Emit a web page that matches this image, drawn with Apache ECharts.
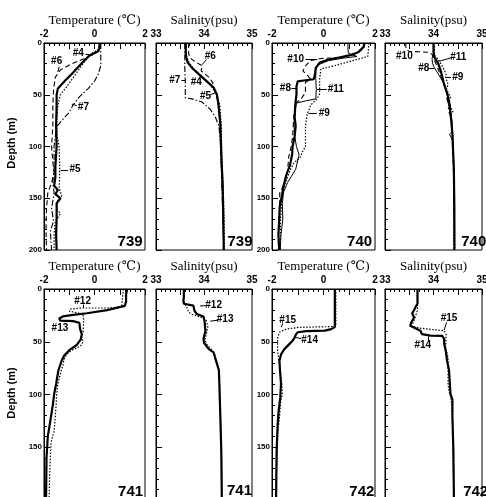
<!DOCTYPE html>
<html><head><meta charset="utf-8">
<script src="https://cdn.jsdelivr.net/npm/echarts/dist/echarts.min.js"></script>
<style>html,body{margin:0;padding:0;background:#fff}#c{width:486px;height:497px}</style>
</head><body><div id="c"></div>
<script>
// ---------- Station 739 ----------
const t739_4 = [[0.2,0],[0.2,5],[0.15,8],[-0.2,12],[-0.4,17],[-0.6,22],[-0.9,30],[-1.15,36],[-1.45,44],[-1.5,50],[-1.5,60],[-1.52,80],[-1.5,100],[-1.55,120],[-1.55,130],[-1.6,138],[-1.45,142],[-1.55,146],[-1.35,150],[-1.5,155],[-1.5,170],[-1.52,185],[-1.5,200]];
const t739_6 = [[0.2,0],[0.2,5],[0.1,9],[-0.4,15],[-0.9,20],[-1.35,26],[-1.55,33],[-1.62,45],[-1.65,60],[-1.65,80],[-1.7,100],[-1.65,115],[-1.6,125],[-1.7,135],[-1.85,145],[-1.9,160],[-1.92,180],[-1.9,200]];
const t739_7 = [[0.25,0],[0.25,10],[0.25,22],[0.15,30],[0.0,37],[-0.25,44],[-0.6,52],[-0.85,60],[-1.0,67],[-1.3,75],[-1.5,81],[-1.55,90],[-1.6,100],[-1.6,120],[-1.65,135],[-1.6,145],[-1.7,160],[-1.62,172],[-1.75,182],[-1.7,200]];
const t739_5 = [[0.2,0],[0.15,6],[-0.1,10],[-0.4,18],[-0.6,25],[-0.8,32],[-1.1,42],[-1.35,50],[-1.45,60],[-1.5,75],[-1.48,90],[-1.4,100],[-1.38,115],[-1.38,130],[-1.4,140],[-1.3,148],[-1.45,152],[-1.5,160],[-1.35,165],[-1.55,172],[-1.6,185],[-1.6,200]];
const s739_4 = [[33.62,0],[33.62,10],[33.63,14],[33.66,19],[33.75,24],[33.96,33],[34.13,40],[34.2,43],[34.27,50],[34.3,59],[34.34,78],[34.36,107],[34.39,139],[34.4,165],[34.41,193],[34.41,200]];
const s739_6 = [[33.68,0],[33.68,10],[33.7,14],[33.78,17],[33.96,22],[33.94,27],[34.1,33],[34.18,38],[34.2,43],[34.26,50],[34.3,60],[34.33,78],[34.35,100],[34.37,130],[34.4,160],[34.41,200]];
const s739_7 = [[33.6,0],[33.6,15],[33.6,25],[33.61,36],[33.61,53],[33.75,54],[33.96,57],[34.13,64],[34.24,72],[34.31,80],[34.34,95],[34.36,120],[34.38,150],[34.4,180],[34.41,200]];
const s739_5 = [[33.63,0],[33.63,12],[33.68,18],[33.8,26],[34.0,34],[34.15,42],[34.25,48],[34.33,60],[34.36,80],[34.37,110],[34.4,140],[34.42,170],[34.42,200]];
// ---------- Station 740 ----------
const t740_8 = [[1.6,0],[1.55,4],[1.35,9],[1.0,12],[0.6,14],[0.2,16],[-0.15,19],[-0.3,24],[-0.33,30],[-0.38,35],[-0.7,36],[-1.0,37],[-1.05,42],[-1.05,50],[-1.08,56],[-1.1,62],[-1.12,72],[-1.08,80],[-1.12,90],[-1.2,100],[-1.22,108],[-1.3,118],[-1.45,128],[-1.55,138],[-1.62,148],[-1.7,158],[-1.72,170],[-1.75,185],[-1.72,200]];
const t740_11 = [[0.95,0],[0.95,6],[0.97,10],[1.3,13],[0.8,14.5],[0.2,17],[-0.2,21],[-0.3,25],[-0.3,35],[-0.28,45],[-0.3,54],[-0.7,56],[-1.05,58],[-1.1,65],[-1.15,78],[-1.12,90],[-1.05,100],[-0.95,108],[-1.08,122],[-1.4,135],[-1.55,144],[-1.6,155],[-1.58,170],[-1.65,185],[-1.68,200]];
const t740_10 = [[1.6,0],[1.55,6],[1.2,11],[0.7,14],[-0.1,15],[-0.5,17],[-0.7,22],[-0.8,27],[-0.6,32],[-0.5,35],[-0.7,38],[-0.7,48],[-0.9,55],[-1.1,58],[-1.15,70],[-1.2,90],[-1.25,100],[-1.35,110],[-1.4,125],[-1.5,135],[-1.7,145],[-1.7,160],[-1.75,180],[-1.75,200]];
const t740_9 = [[1.75,0],[1.75,5],[1.72,13],[0.42,22],[-0.1,25],[-0.15,35],[-0.15,49],[-0.25,54],[-0.5,60],[-0.56,65],[-0.63,68],[-0.7,80],[-0.7,100],[-0.82,105],[-0.89,110],[-1.15,116],[-1.28,122],[-1.48,135],[-1.6,148],[-1.67,170],[-1.68,200]];
const s740_8 = [[34.0,0],[34.0,9],[34.02,14],[34.09,19],[34.15,27],[34.22,40],[34.29,50],[34.33,59],[34.36,72],[34.39,88],[34.4,100],[34.42,123],[34.43,160],[34.43,200]];
const s740_11 = [[34.0,0],[34.0,10],[33.97,15],[33.98,20],[34.02,24],[34.1,30],[34.2,38],[34.25,45],[34.3,52],[34.28,55],[34.35,65],[34.38,80],[34.38,86],[34.33,88],[34.4,95],[34.42,120],[34.43,200]];
const s740_10 = [[33.43,0],[33.43,6],[33.5,8],[33.7,8.5],[33.9,9],[33.97,11],[34.0,14],[34.05,20],[34.12,28],[34.2,38],[34.28,48],[34.26,52],[34.35,60],[34.3,64],[34.38,75],[34.4,100],[34.42,140],[34.43,200]];
const s740_9 = [[34.02,0],[34.02,12],[34.1,16],[34.2,24],[34.26,30],[34.25,33],[34.3,40],[34.27,45],[34.35,52],[34.31,58],[34.4,66],[34.36,70],[34.4,90],[34.42,120],[34.44,200]];
// ---------- Station 741 ----------
const t741_12 = [[1.15,0],[1.12,5],[1.1,11],[1.08,17],[0.5,18],[-0.5,18],[-0.95,19],[-1.0,21],[-0.6,23],[-0.45,24],[-0.43,30],[-0.45,40],[-0.52,45],[-0.45,50],[-0.55,54],[-0.9,58],[-1.1,62],[-1.2,66],[-1.25,72],[-1.35,80],[-1.45,90],[-1.5,100],[-1.52,110],[-1.55,120],[-1.6,135],[-1.72,145],[-1.75,160],[-1.78,180],[-1.8,200]];
const t741_13 = [[1.3,0],[1.25,5],[1.25,12],[1.2,16],[0.5,20],[-0.3,23],[-0.85,24.5],[-1.25,26],[-1.4,28],[-1.35,30],[-0.85,30.5],[-0.6,32],[-0.57,38],[-0.5,43],[-0.55,48],[-0.7,53],[-1.0,58],[-1.2,63],[-1.3,68],[-1.43,77],[-1.52,90],[-1.6,100],[-1.65,110],[-1.75,125],[-1.85,140],[-1.9,160],[-1.92,200]];
const s741_13 = [[33.58,0],[33.58,8],[33.57,11],[33.53,12.6],[33.58,14],[33.78,15.8],[33.8,20.5],[33.85,23.7],[33.99,26],[34.01,30],[34.03,39.5],[33.99,47],[34.0,51],[34.1,57],[34.2,60],[34.23,65],[34.27,71],[34.31,77],[34.32,90],[34.34,121],[34.36,153],[34.37,194],[34.37,200]];
const s741_12 = [[33.58,0],[33.58,11],[33.6,14],[33.65,18],[33.68,22],[33.75,24],[33.95,27],[34.05,30],[34.08,36],[34.05,42],[34.02,48],[34.05,52],[34.15,57],[34.22,62],[34.28,70],[34.32,80],[34.33,100],[34.35,130],[34.37,170],[34.37,200]];
// ---------- Station 742 ----------
const t742_14 = [[0.44,0],[0.44,20],[0.44,36],[0.3,38],[0.05,39.5],[-0.67,40],[-1.0,41],[-1.07,43],[-1.12,46],[-1.2,49],[-1.32,52],[-1.52,57],[-1.65,62],[-1.71,68],[-1.69,77],[-1.65,90],[-1.68,103],[-1.74,115],[-1.78,128],[-1.82,153],[-1.84,194],[-1.84,200]];
const t742_15 = [[0.48,0],[0.48,20],[0.48,35],[0.25,35.7],[-0.93,36.3],[-1.45,38],[-1.71,41],[-1.78,46],[-1.78,58],[-1.71,74],[-1.62,90],[-1.6,99.5],[-1.66,106],[-1.71,122],[-1.78,137],[-1.82,169],[-1.84,200]];
const s742_14 = [[33.67,0],[33.67,14],[33.63,17],[33.6,20],[33.56,23],[33.6,27],[33.55,31],[33.52,34.8],[33.56,36.3],[33.73,39.5],[33.76,42.7],[33.94,44.2],[34.18,44.5],[34.22,47.4],[34.22,52],[34.25,58],[34.28,68],[34.32,77],[34.35,99.5],[34.39,105],[34.39,121.6],[34.41,153],[34.42,194],[34.42,200]];
const s742_15 = [[33.67,0],[33.67,20],[33.6,30],[33.55,35],[33.7,37],[34.0,38.5],[34.22,39.5],[34.26,43],[34.25,55],[34.3,65],[34.3,90],[34.32,97],[34.36,103],[34.39,120],[34.42,200]];
// ---------- Annotations [x, depth, text] ----------
const lab739T = [[-0.64,9.6,'#4'],[-1.5,18,'#6'],[-0.44,62,'#7'],[-0.77,122,'#5']];
const lab739S = [[34.13,12.8,'#6'],[33.39,36,'#7'],[33.84,38.3,'#4'],[34.03,51,'#5']];
const lab740T = [[-1.08,15.9,'#10'],[-1.48,43.5,'#8'],[0.48,44.4,'#11'],[0.03,67.6,'#9']];
const lab740S = [[33.4,12.8,'#10'],[34.51,13.4,'#11'],[33.8,24,'#8'],[34.5,33.5,'#9']];
const lab741T = [[-0.47,11.7,'#12'],[-1.37,37,'#13']];
const lab741S = [[34.2,15.8,'#12'],[34.44,29,'#13']];
const lab742T = [[-1.39,29.4,'#15'],[-0.54,49,'#14']];
const lab742S = [[34.32,27.5,'#15'],[33.78,53.7,'#14']];
const lead739T = [[[-0.36,11],[-0.06,11.5]],[[-1.4,23],[-1.45,28]],[[-0.7,60.5],[-0.9,59]],[[-1.05,123],[-1.34,123]]];
const lead739S = [[[34.05,16],[33.96,21]],[[33.53,36],[33.61,36]],[[34.13,50],[34.24,48]]];
const lead740T = [[[-0.7,15.9],[-0.24,15.9]],[[-1.25,43.5],[-1.02,43.5]],[[0.13,44.4],[-0.26,44.4]],[[-0.26,67.6],[-0.58,67.6]]];
const lead740S = [[[34.36,14.4],[34.12,17.6]],[[33.91,24],[34.02,24]],[[34.36,33],[34.26,33]]];
const lead741T = [[[-0.44,14.8],[-0.44,18]]];
const lead741S = [[[33.92,16],[34.07,15.8]],[[34.3,29.5],[34.13,30.5]]];
const lead742T = [[[-1.58,32.5],[-1.64,36.3]],[[-0.86,47],[-1.08,46]]];
const lead742S = [[[34.27,31.6],[34.22,38.9]],[[33.9,49],[33.9,45]]];
const stations = [['739',1.41,192],['739',34.75,192],['740',1.4,192],['740',34.83,192],['741',1.43,192],['741',34.74,191],['742',1.49,192],['742',34.87,192]];
const tempTicks = [-2,0,2];
const salTicks = [33,34,35];
const depthTicks = [0,50,100,150,200];

// ---------- Layout ----------
const SANS = 'Liberation Sans, Arial, Helvetica, sans-serif';
const SERIF = 'Liberation Serif, Times New Roman, DejaVu Serif, serif';
const cols = [[44,101],[156,96],[272,103],[385,97]];
const rows = [[43,207,143],[289,211,393]];
const STY = {
  solid:{width:2.2,type:'solid'}, thin:{width:1,type:'solid'},
  dash:{width:1.1,type:[5,3]}, dot:{width:1.2,type:[1.5,1.6]}, dashdot:{width:1.1,type:[6,2,1.5,2]}
};
const panels = [
  {k:'T', prof:[[t739_6,'dash'],[t739_7,'dashdot'],[t739_5,'dot'],[t739_4,'solid']], lab:lab739T, lead:lead739T},
  {k:'S', prof:[[s739_6,'dash'],[s739_7,'dashdot'],[s739_5,'dot'],[s739_4,'solid']], lab:lab739S, lead:lead739S},
  {k:'T', prof:[[t740_10,'dash'],[t740_9,'dot'],[t740_11,'thin'],[t740_8,'solid']], lab:lab740T, lead:lead740T},
  {k:'S', prof:[[s740_10,'dash'],[s740_9,'dot'],[s740_11,'thin'],[s740_8,'solid']], lab:lab740S, lead:lead740S},
  {k:'T', prof:[[t741_12,'dot'],[t741_13,'solid']], lab:lab741T, lead:lead741T},
  {k:'S', prof:[[s741_12,'dot'],[s741_13,'solid']], lab:lab741S, lead:lead741S},
  {k:'T', prof:[[t742_15,'dot'],[t742_14,'solid']], lab:lab742T, lead:lead742T},
  {k:'S', prof:[[s742_15,'dot'],[s742_14,'solid']], lab:lab742S, lead:lead742S}
];

const grid=[], xAxis=[], yAxis=[], series=[], graphic=[];
panels.forEach((p,i)=>{
  const c = cols[i%4], r = rows[Math.floor(i/4)];
  grid.push({left:c[0], top:r[0], width:c[1], height:r[1], show:true, borderColor:'#000', borderWidth:1,
    backgroundColor:'transparent', containLabel:false, outerBoundsMode:'none'});
  const isT = p.k==='T';
  const ticks = isT ? tempTicks : salTicks;
  xAxis.push({gridIndex:i, type:'value', position:'top', min:isT?-2:33, max:isT?2:35, interval:isT?1:0.5,
    axisLine:{show:true, onZero:false, lineStyle:{color:'#000', width:1}},
    axisTick:{show:true, inside:true, length:6, lineStyle:{color:'#000'}},
    minorTick:{show:true, splitNumber:5, length:3, lineStyle:{color:'#000'}},
    splitLine:{show:false},
    axisLabel:{show:true, margin:4, color:'#000', fontSize:10, fontWeight:'bold', fontFamily:SANS,
      formatter:v=> ticks.some(t=>Math.abs(t-v)<1e-6) ? String(v) : ''}
  });
  yAxis.push({gridIndex:i, type:'value', position:'left', inverse:true, min:0, max:200, interval:50,
    axisLine:{show:true, onZero:false, lineStyle:{color:'#000', width:1}},
    axisTick:{show:true, inside:true, length:6, lineStyle:{color:'#000'}},
    minorTick:{show:true, splitNumber:5, length:3, lineStyle:{color:'#000'}},
    splitLine:{show:false},
    axisLabel:{show: isT, margin:2, color:'#000', fontSize:8, fontWeight:'bold', fontFamily:SANS,
      formatter:v=> depthTicks.includes(v) ? String(v) : ''}
  });
  p.prof.forEach(([d,s])=>{
    series.push({type:'line', xAxisIndex:i, yAxisIndex:i, data:d, symbol:'none', showSymbol:false,
      lineStyle:{color:'#000', width:STY[s].width, type:STY[s].type}, silent:true, animation:false, z:s==='solid'?3:2});
  });
  series.push({type:'lines', coordinateSystem:'cartesian2d', xAxisIndex:i, yAxisIndex:i,
    data:p.lead.map(cc=>({coords:cc})), lineStyle:{color:'#000', width:1, opacity:1, curveness:0}, silent:true, animation:false});
  series.push({type:'scatter', xAxisIndex:i, yAxisIndex:i, symbolSize:1, itemStyle:{color:'rgba(0,0,0,0)', opacity:1},
    data:p.lab.map(l=>({value:[l[0],l[1]], name:l[2]})), silent:true, animation:false, z:5,
    label:{show:true, position:'inside', formatter:q=>q.name, color:'#000', fontSize:10, fontWeight:'bold', fontFamily:SANS}});
  const st = stations[i];
  series.push({type:'scatter', xAxisIndex:i, yAxisIndex:i, symbolSize:1, itemStyle:{color:'rgba(0,0,0,0)', opacity:1},
    data:[{value:[st[1],st[2]], name:st[0]}], silent:true, animation:false, z:5,
    label:{show:true, position:'inside', formatter:q=>q.name, color:'#000', fontSize:15, fontWeight:'bold', fontFamily:SANS}});
  graphic.push({type:'text', x:c[0]+c[1]/2, y:r[0]-22, silent:true,
    style:{text: isT ? 'Temperature (\u2103)' : 'Salinity(psu)', font:'13px '+SERIF, fill:'#000', textAlign:'center', textVerticalAlign:'middle'}});
});
rows.forEach(r=>{
  graphic.push({type:'text', x:12, y:r[2], rotation:Math.PI/2, silent:true,
    style:{text:'Depth (m)', font:'bold 11px '+SANS, fill:'#000', textAlign:'center', textVerticalAlign:'middle'}});
});

const chart = echarts.init(document.getElementById('c'), null, {renderer:'canvas'});
chart.setOption({animation:false, backgroundColor:'#fff', grid, xAxis, yAxis, series, graphic});
</script></body></html>
